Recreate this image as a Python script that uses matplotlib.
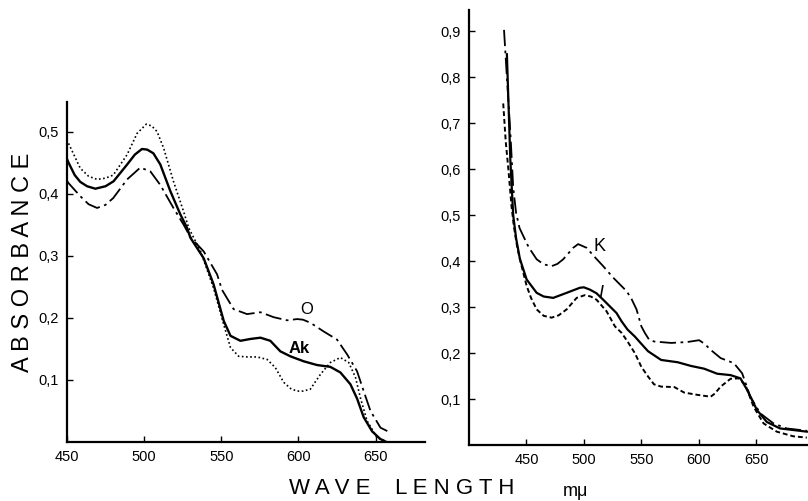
import matplotlib.pyplot as plt

plt.rcParams['font.family'] = ['Liberation Sans', 'DejaVu Sans']

# ---- left panel: absorbance spectra (O, Ak, dotted) ----
wl_o = [450, 451, 458.6, 464, 469.5, 475, 480, 489, 497.5, 504, 510.5, 519, 525.6, 530,
        538.6, 547.3, 550.5, 558, 566.7, 575.4, 584, 592.7, 599.2, 603, 607.8, 616.4,
        625, 631.6, 638, 642.3, 646.7, 653.2, 659.7]
abs_o = [0.421, 0.417, 0.396, 0.383, 0.377, 0.382, 0.393, 0.423, 0.442, 0.436, 0.414,
         0.377, 0.350, 0.330, 0.307, 0.270, 0.245, 0.214, 0.206, 0.209, 0.201, 0.196,
         0.198, 0.197, 0.192, 0.178, 0.165, 0.141, 0.114, 0.082, 0.050, 0.023, 0.015]

wl_ak = [450, 451, 455, 458.6, 463, 468.4, 475, 480.2, 489, 494, 498.6, 502, 506, 510.5,
         517, 523.4, 527.8, 530, 538.6, 545, 551.6, 556, 562.4, 569, 575.4, 581.8, 588.3,
         594.8, 603.4, 612, 620.7, 627.2, 633.7, 638, 642.3, 647.8, 653, 657]
abs_ak = [0.456, 0.450, 0.430, 0.419, 0.412, 0.408, 0.412, 0.420, 0.447, 0.463, 0.472,
          0.471, 0.465, 0.447, 0.404, 0.367, 0.345, 0.329, 0.296, 0.254, 0.195, 0.171,
          0.163, 0.166, 0.168, 0.163, 0.146, 0.138, 0.130, 0.124, 0.121, 0.112, 0.093,
          0.070, 0.040, 0.017, 0.005, 0.0]

wl_dot = [451, 458.6, 464, 469.5, 475, 480, 489, 495.4, 501.4, 505, 508.4, 512.7, 519,
          525.6, 528.9, 536.6, 545, 551.6, 556, 561.3, 567, 573.2, 579.7, 585, 590.5,
          595, 599, 603, 607.7, 614.3, 620.7, 627.2, 632.6, 637, 640.2, 644.5, 651, 657.5]
abs_dot = [0.481, 0.441, 0.428, 0.423, 0.425, 0.430, 0.463, 0.497, 0.512, 0.509, 0.500,
           0.473, 0.420, 0.371, 0.345, 0.307, 0.248, 0.189, 0.152, 0.138, 0.137, 0.137,
           0.133, 0.120, 0.096, 0.086, 0.082, 0.082, 0.085, 0.109, 0.128, 0.136, 0.128,
           0.104, 0.071, 0.034, 0.007, 0.0]

# ---- right panel: absorbance spectra (K, I, dashed) ----
wl_k = [430.5, 433, 436, 438.5, 441, 444, 447.2, 452, 458.9, 465, 471.9, 477, 482,
        490.7, 495, 502.3, 509, 516.8, 525.5, 537, 541, 545.8, 550, 553, 557, 561.5,
        576, 590, 600.3, 605, 610.3, 619, 630.5, 637.7, 644.8, 653.4, 664.9, 676.4, 694]
abs_k = [0.903, 0.800, 0.680, 0.560, 0.505, 0.472, 0.455, 0.430, 0.404, 0.393, 0.389,
         0.394, 0.404, 0.429, 0.437, 0.429, 0.410, 0.389, 0.364, 0.335, 0.320, 0.295,
         0.258, 0.244, 0.228, 0.225, 0.222, 0.224, 0.228, 0.220, 0.207, 0.189, 0.178,
         0.156, 0.105, 0.069, 0.047, 0.036, 0.031]

wl_i = [433, 436, 438.5, 441, 444.3, 450.2, 458.9, 465, 473.3, 485, 496.5, 500, 505.2,
        511, 516.8, 528.4, 532.8, 538, 544.3, 550, 555.8, 567.2, 581.6, 593.1, 604.6,
        616, 627.6, 636.2, 642, 650.6, 659.2, 670.7, 694]
abs_i = [0.850, 0.620, 0.500, 0.450, 0.405, 0.360, 0.331, 0.323, 0.320, 0.331, 0.342,
         0.343, 0.338, 0.330, 0.316, 0.287, 0.269, 0.251, 0.236, 0.220, 0.204, 0.185,
         0.180, 0.172, 0.166, 0.155, 0.152, 0.145, 0.120, 0.076, 0.050, 0.036, 0.029]

wl_dash = [429.8, 432, 434.5, 437, 439, 442, 445, 450.2, 454, 458.9, 465, 471.9, 478,
           485, 493.7, 500.9, 506, 511, 519.7, 527, 532.8, 538, 544.3, 550, 555.8, 561,
           567.2, 578.7, 587.3, 598.9, 610.3, 614, 619, 627.6, 634.7, 640.5, 647.7,
           656.3, 667.8, 682, 694]
abs_dash = [0.743, 0.660, 0.594, 0.520, 0.477, 0.430, 0.397, 0.346, 0.320, 0.295, 0.281,
            0.277, 0.282, 0.295, 0.320, 0.326, 0.323, 0.316, 0.291, 0.258, 0.244, 0.225,
            0.200, 0.170, 0.149, 0.132, 0.127, 0.126, 0.114, 0.109, 0.105, 0.112, 0.127,
            0.144, 0.145, 0.131, 0.083, 0.047, 0.029, 0.019, 0.016]

x_ticks = [450, 500, 550, 600, 650]
y_ticks_left = [0.1, 0.2, 0.3, 0.4, 0.5]
y_ticks_right = [0.1, 0.2, 0.3, 0.4, 0.5, 0.6, 0.7, 0.8, 0.9]

DASHDOT = (0, (9, 2.5, 1.5, 2.5))


def style_axes(ax, yticks):
    for side in ["top", "right"]:
        ax.spines[side].set_visible(False)
    for side in ["left", "bottom"]:
        ax.spines[side].set_linewidth(1.6)
    ax.set_xticks(x_ticks)
    ax.set_xticklabels([str(t) for t in x_ticks])
    ax.set_yticks(yticks)
    ax.set_yticklabels([("%.1f" % t).replace(".", ",") for t in yticks])
    ax.tick_params(direction="in", length=4, width=1, labelsize=10.5, pad=6)


def curve(ax, x, y, **kw):
    ax.plot(x, y, color="k", solid_joinstyle="round", dash_joinstyle="round", **kw)


fig = plt.figure(figsize=(8.08, 5.01), dpi=100)

# left panel
ax1 = fig.add_axes([0.0829, 0.1178, 0.443, 0.679])
curve(ax1, wl_o, abs_o, lw=1.3, linestyle=DASHDOT)
curve(ax1, wl_ak, abs_ak, lw=1.7)
curve(ax1, wl_dot, abs_dot, lw=1.2, linestyle=(0, (1, 1.5)))
ax1.set_xlim(450, 682)
ax1.set_ylim(0, 0.548)
style_axes(ax1, y_ticks_left)
ax1.text(605.2, 0.214, "O", fontsize=12, ha="center", va="center")
ax1.text(600.6, 0.151, "Ak", fontsize=12, fontweight="bold", ha="center", va="center")

# right panel
ax2 = fig.add_axes([0.5804, 0.1118, 0.4196, 0.868])
curve(ax2, wl_k, abs_k, lw=1.3, linestyle=DASHDOT)
curve(ax2, wl_i, abs_i, lw=1.6)
curve(ax2, wl_dash, abs_dash, lw=1.4, linestyle=(0, (2.5, 1.5)))
ax2.set_xlim(400, 695)
ax2.set_ylim(0, 0.946)
style_axes(ax2, y_ticks_right)
ax2.text(513.9, 0.432, "K", fontsize=13, ha="center", va="center")
ax2.text(514.8, 0.33, "I", fontsize=13, style="italic", ha="center", va="center")

# shared axis titles
fig.text(0.028, 0.477, "A B S O R B A N C E", rotation=90, fontsize=17,
         ha="center", va="center")
fig.text(0.497, 0.024, "W A V E    L E N G T H", fontsize=16,
         ha="center", va="center")
fig.text(0.712, 0.018, "mμ", fontsize=13, ha="center", va="center")

fig.savefig("out.png", dpi=100)
